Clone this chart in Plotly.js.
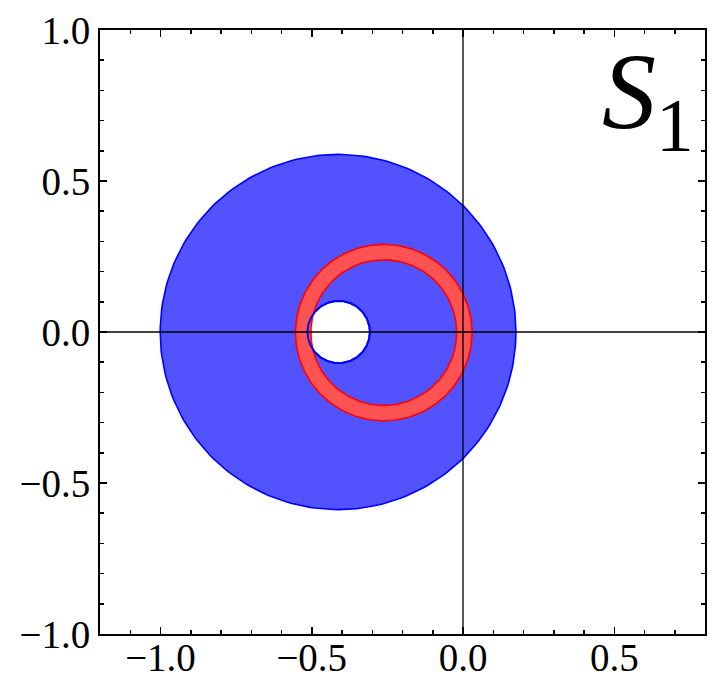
<!DOCTYPE html>
<html>
<head>
<meta charset="utf-8">
<script src="https://cdn.plot.ly/plotly-3.0.1.min.js"></script>
<style>
html,body{margin:0;padding:0;background:#fff;}
#chart{width:709px;height:678px;}
</style>
</head>
<body>
<div id="chart"></div>
<script>
// Regions (annuli): centre, outer radius, inner (hole) radius
const regionNames = ['blue region', 'red ring'];
const centerX = [-0.413, -0.262];
const centerY = [0.0, -0.002];
const outerR = [0.588, 0.292];
const innerR = [0.103, 0.241];
const holeCenterX = [-0.411, -0.262];
const holeCenterY = [0.0, -0.002];
const fillColors = ['rgb(82,82,255)', 'rgb(255,82,82)'];
const edgeColors = ['rgb(0,0,255)', 'rgb(255,0,0)'];

// Axis tick labels
const xTickVals = [-1.0, -0.5, 0.0, 0.5];
const yTickVals = [-1.0, -0.5, 0.0, 0.5, 1.0];
const panelLabel = '<i>S</i><sub>1</sub>';

const N = 240;
function circle(cx, cy, r, reverse) {
  const xs = [], ys = [];
  for (let i = 0; i <= N; i++) {
    const t = (reverse ? (N - i) : i) / N * 2 * Math.PI;
    xs.push(cx + r * Math.cos(t));
    ys.push(cy + r * Math.sin(t));
  }
  return {x: xs, y: ys};
}

const traces = [];
for (let k = 0; k < regionNames.length; k++) {
  const o = circle(centerX[k], centerY[k], outerR[k], false);
  const h = circle(holeCenterX[k], holeCenterY[k], innerR[k], true);
  traces.push({
    type: 'scatter', mode: 'lines', name: regionNames[k],
    x: o.x.concat(h.x), y: o.y.concat(h.y),
    fill: 'toself', fillcolor: fillColors[k],
    line: {width: 0, color: fillColors[k]},
    hoverinfo: 'skip', showlegend: false
  });
  traces.push({
    type: 'scatter', mode: 'lines', x: o.x, y: o.y,
    line: {width: 1.6, color: edgeColors[k]}, hoverinfo: 'skip', showlegend: false
  });
  traces.push({
    type: 'scatter', mode: 'lines', x: h.x, y: h.y,
    line: {width: 1.6, color: edgeColors[k]}, hoverinfo: 'skip', showlegend: false
  });
}
// hole outline of blue region drawn on top (as in reference)
{
  const h = circle(holeCenterX[0], holeCenterY[0], innerR[0], true);
  traces.push({
    type: 'scatter', mode: 'lines', x: h.x, y: h.y,
    line: {width: 2, color: edgeColors[0]}, hoverinfo: 'skip', showlegend: false
  });
}

const serif = 'Liberation Serif';
const tickFont = {family: serif, size: 39, color: '#000'};
const axisCommon = {
  showgrid: false, zeroline: false, showline: true, linecolor: '#000', linewidth: 2,
  mirror: 'allticks', ticks: 'inside', ticklen: 7, tickwidth: 1.5, tickcolor: '#000',
  tickfont: tickFont, tickformat: '.1f',
  minor: {ticks: 'inside', ticklen: 4, tickwidth: 1.5, tickcolor: '#000', dtick: 0.1, showgrid: false}
};

const layout = {
  width: 709, height: 678,
  margin: {l: 100, r: 4, t: 30, b: 44},
  paper_bgcolor: '#fff', plot_bgcolor: '#fff',
  showlegend: false,
  xaxis: Object.assign({}, axisCommon, {range: [-1.2, 0.8], tickvals: xTickVals, ticklabelstandoff: -12,
    minor: Object.assign({}, axisCommon.minor, {tick0: 0})}),
  yaxis: Object.assign({}, axisCommon, {range: [-1.0, 1.0], tickvals: yTickVals,
    minor: Object.assign({}, axisCommon.minor, {tick0: 0})}),
  shapes: [
    {type: 'line', layer: 'above', xref: 'x', yref: 'paper', x0: 0, x1: 0, y0: 0, y1: 1, line: {color: '#000', width: 1.3}},
    {type: 'line', layer: 'above', xref: 'paper', yref: 'y', x0: 0, x1: 1, y0: 0, y1: 0, line: {color: '#000', width: 1.3}}
  ],
  annotations: [{
    text: panelLabel, xref: 'paper', yref: 'paper', x: 0.985, y: 0.885,
    xanchor: 'right', yanchor: 'middle', showarrow: false,
    font: {family: serif, size: 108, color: '#000'}
  }]
};

Plotly.newPlot('chart', traces, layout, {displayModeBar: false, staticPlot: true});
</script>
</body>
</html>
